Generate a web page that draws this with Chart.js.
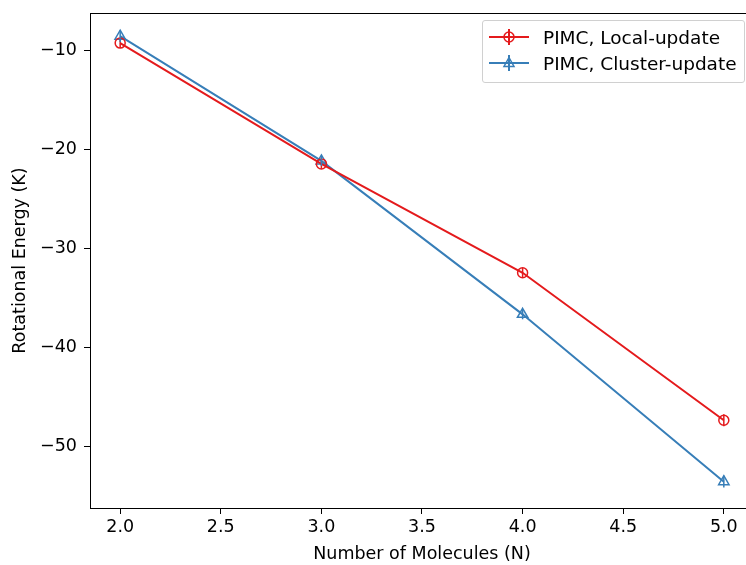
<!DOCTYPE html>
<html>
<head>
<meta charset="utf-8">
<script src="https://cdn.jsdelivr.net/npm/chart.js@4"></script>
<style>
  html, body { margin: 0; padding: 0; background: #fff; overflow: hidden; }
  #wrap { position: relative; width: 746px; height: 565px; overflow: hidden; }
  #chart-box { position: absolute; left: 0; top: 0; width: 770px; height: 565px; }
  #legend {
    position: absolute; left: 482px; top: 20px; width: 261px; height: 61px;
    border: 1px solid #d0d0d0; border-radius: 3px; background: rgba(255,255,255,0.8);
    font-family: "DejaVu Sans", sans-serif; font-size: 18.5px; color: #000;
  }
  .row { position: absolute; left: 0; height: 24px; display: flex; align-items: center; white-space: nowrap; }
  .row svg { margin-left: 5px; margin-right: 13px; }
</style>
</head>
<body>
<div id="wrap">
  <div id="chart-box"><canvas id="c" width="770" height="565"></canvas></div>
  <div id="legend">
    <div class="row" style="top:4px">
      <svg width="42" height="20"><line x1="1" y1="10" x2="41" y2="10" stroke="#e41a1c" stroke-width="2"/><line x1="21" y1="2" x2="21" y2="18" stroke="#e41a1c" stroke-width="2"/><circle cx="21" cy="10" r="5" fill="none" stroke="#e41a1c" stroke-width="1.5"/></svg>
      <span>PIMC, Local-update</span>
    </div>
    <div class="row" style="top:30px">
      <svg width="42" height="20"><line x1="1" y1="10" x2="41" y2="10" stroke="#377eb8" stroke-width="2"/><line x1="21" y1="2" x2="21" y2="18" stroke="#377eb8" stroke-width="2"/><polygon points="21,4.5 26,13.5 16,13.5" fill="none" stroke="#377eb8" stroke-width="1.5"/></svg>
      <span>PIMC, Cluster-update</span>
    </div>
  </div>
</div>
<script>
const molecules = [2, 3, 4, 5];
const localEnergy = [-9.3, -21.5, -32.5, -47.4];
const localErr = [0.5, 0.5, 0.5, 0.6];
const clusterEnergy = [-8.6, -21.2, -36.7, -53.6];
const clusterErr = [0.6, 0.5, 0.5, 0.6];
const xTicks = [2.0, 2.5, 3.0, 3.5, 4.0, 4.5, 5.0];
const yTicks = [-50, -40, -30, -20, -10];

const RED = "#e41a1c";
const BLUE = "#377eb8";
const FONT = "'DejaVu Sans', sans-serif";

function pts(ys) {
    return molecules.map((x, i) => ({x: x, y: ys[i]}));
}

// vertical error bars + full axes frame, matplotlib style
const errorBars = {
    id: "errorBars",
    afterDatasetsDraw(chart) {
        const {ctx, scales: {x, y}} = chart;
        const errs = [localErr, clusterErr];
        chart.data.datasets.forEach((ds, di) => {
            ctx.save();
            ctx.strokeStyle = ds.borderColor;
            ctx.lineWidth = 1.5;
            ds.data.forEach((p, i) => {
                const px = x.getPixelForValue(p.x);
                ctx.beginPath();
                ctx.moveTo(px, y.getPixelForValue(p.y - errs[di][i]));
                ctx.lineTo(px, y.getPixelForValue(p.y + errs[di][i]));
                ctx.stroke();
            });
            ctx.restore();
        });
        const a = chart.chartArea;
        ctx.save();
        ctx.strokeStyle = "#000";
        ctx.lineWidth = 1;
        ctx.strokeRect(a.left + 0.5, a.top + 0.5, a.right - a.left, a.bottom - a.top);
        ctx.restore();
    }
};

const fmt = v => (v < 0 ? "\u2212" : "") + Math.abs(v);

new Chart(document.getElementById("c"), {
    type: "line",
    data: {
        datasets: [
            {
                label: "PIMC, Local-update",
                data: pts(localEnergy),
                borderColor: RED,
                backgroundColor: "transparent",
                borderWidth: 2,
                pointStyle: "circle",
                pointRadius: 5,
                pointBorderWidth: 1.5,
                pointBackgroundColor: "transparent",
                pointBorderColor: RED,
                tension: 0
            },
            {
                label: "PIMC, Cluster-update",
                data: pts(clusterEnergy),
                borderColor: BLUE,
                backgroundColor: "transparent",
                borderWidth: 2,
                pointStyle: "triangle",
                pointRadius: 6,
                pointBorderWidth: 1.5,
                pointBackgroundColor: "transparent",
                pointBorderColor: BLUE,
                tension: 0
            }
        ]
    },
    options: {
        responsive: false,
        animation: false,
        devicePixelRatio: 1,
        layout: {padding: {left: 0, top: 13, right: 16, bottom: 0}},
        plugins: {legend: {display: false}, tooltip: {enabled: false}},
        scales: {
            x: {
                type: "linear",
                min: 1.85,
                max: 5.15,
                afterBuildTicks: axis => { axis.ticks = xTicks.map(v => ({value: v})); },
                afterFit: axis => { axis.height = 57; axis.paddingLeft = 0; axis.paddingRight = 0; },
                grid: {drawOnChartArea: false, drawTicks: true, tickLength: 6, color: "#000"},
                border: {display: false},
                ticks: {
                    color: "#000",
                    padding: 3,
                    maxRotation: 0,
                    font: {family: FONT, size: 17.5},
                    callback: v => v.toFixed(1)
                },
                title: {
                    display: true,
                    text: "Number of Molecules (N)",
                    color: "#000",
                    padding: {top: 0, bottom: 0},
                    font: {family: FONT, size: 17.5}
                }
            },
            y: {
                min: -56.26,
                max: -6.26,
                afterBuildTicks: axis => { axis.ticks = yTicks.map(v => ({value: v})); },
                afterFit: axis => { axis.width = 90; axis.paddingTop = 0; axis.paddingBottom = 0; },
                grid: {drawOnChartArea: false, drawTicks: true, tickLength: 6, color: "#000"},
                border: {display: false},
                ticks: {
                    color: "#000",
                    padding: 7,
                    font: {family: FONT, size: 17.5},
                    callback: v => fmt(v)
                },
                title: {
                    display: true,
                    text: "Rotational Energy (K)",
                    color: "#000",
                    padding: {top: 10, bottom: 0},
                    font: {family: FONT, size: 17.5}
                }
            }
        }
    },
    plugins: [errorBars]
});
</script>
</body>
</html>
